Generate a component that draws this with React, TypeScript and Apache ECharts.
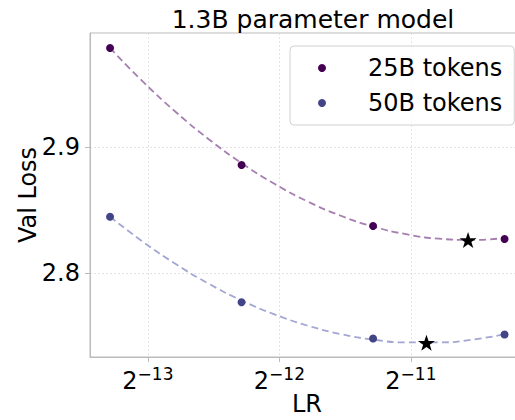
import React, { useEffect, useRef } from "react";
import * as echarts from "echarts";

// Learning rates swept (powers of two apart)
const lr = [1e-4, 2e-4, 4e-4, 8e-4];
const loss25B = [2.9786, 2.8857, 2.8373, 2.827];
const loss50B = [2.8447, 2.7767, 2.748, 2.7512];

// Fitted curves, sampled at quarter-octave steps
const fitLr = [
  1.0e-4, 1.189e-4, 1.414e-4, 1.682e-4, 2.0e-4, 2.378e-4, 2.828e-4,
  3.364e-4, 4.0e-4, 4.757e-4, 5.657e-4, 6.727e-4, 8.0e-4,
];
const fit25B = [
  2.9786, 2.9519, 2.9278, 2.9062, 2.8872, 2.8708, 2.8569, 2.8456, 2.8369,
  2.8308, 2.8272, 2.8262, 2.8278,
];
const fit50B = [
  2.8447, 2.8248, 2.8071, 2.7915, 2.7782, 2.7672, 2.7583, 2.7516, 2.7471,
  2.7449, 2.7449, 2.747, 2.7514,
];

// Minimum of each fit
const optimaLr = [6.6e-4, 5.3e-4];
const optimaLoss = [2.8262, 2.7446];

const xTicks = [Math.pow(2, -13), Math.pow(2, -12), Math.pow(2, -11)];
const yTicks = [2.8, 2.9];

const C25 = "#440154";
const C50 = "#414487";
const FIT25 = "#a67eb0";
const FIT50 = "#a3a6d2";
const FONT = "DejaVu Sans";
const STAR =
  "path://M50,0 L61.8,35.1 L98.1,35.1 L68.8,56.7 L79.4,91 L50,70 L20.6,91 L31.2,56.7 L1.9,35.1 L38.2,35.1 Z";

const pairs = (xs: number[], ys: number[]) => xs.map((x, i) => [x, ys[i]]);

export default function App() {
  const ref = useRef<HTMLDivElement>(null);

  useEffect(() => {
    if (!ref.current) return;
    const chart = echarts.init(ref.current, undefined, { renderer: "svg" });
    const gridLine = { show: true, lineStyle: { color: "#dcdcdc", type: [2, 2] as any, width: 0.8 } };

    chart.setOption({
      animation: false,
      backgroundColor: "#ffffff",
      textStyle: { fontFamily: FONT },
      title: {
        text: "1.3B parameter model",
        left: 308,
        textAlign: "center",
        top: 2,
        textStyle: { fontFamily: FONT, fontSize: 25, fontWeight: "normal", color: "#000" },
      },
      grid: {
        left: 90,
        top: 33,
        width: 434,
        height: 324,
        outerBoundsMode: "none",
        containLabel: false,
        show: true,
        borderColor: "#bbbbbb",
        borderWidth: 1,
        backgroundColor: "transparent",
      },
      legend: {
        data: ["25B tokens", "50B tokens"],
        orient: "vertical",
        left: 290,
        top: 46,
        icon: "circle",
        itemWidth: 8,
        itemHeight: 8,
        itemGap: 9,
        padding: [9, 12, 9, 28],
        backgroundColor: "rgba(255,255,255,0.8)",
        borderColor: "#d0d0d0",
        borderWidth: 1,
        borderRadius: 4,
        textStyle: {
          fontFamily: FONT,
          fontSize: 24,
          color: "#000",
          lineHeight: 26,
          padding: [0, 0, 0, 37],
        },
      },
      xAxis: {
        type: "log",
        logBase: 2,
        min: 8.998e-5,
        max: 8.862e-4,
        name: "LR",
        nameLocation: "middle",
        nameGap: 35,
        nameMoveOverlap: false,
        nameTextStyle: { fontFamily: FONT, fontSize: 24, color: "#000", lineHeight: 24 },
        axisLine: { show: true, lineStyle: { color: "#bbbbbb" } },
        axisTick: {
          show: true,
          length: 5,
          customValues: xTicks,
          lineStyle: { color: "#bbbbbb" },
        },
        axisLabel: {
          customValues: xTicks,
          margin: 8,
          formatter: (v: number) => `{b|2}{s|−${Math.round(-Math.log2(v))}}`,
          rich: {
            b: { fontFamily: FONT, fontSize: 24, color: "#000", lineHeight: 28, verticalAlign: "bottom" },
            s: { fontFamily: FONT, fontSize: 17, color: "#000", lineHeight: 28, verticalAlign: "top" },
          },
        },
        splitLine: gridLine,
      },
      yAxis: {
        type: "value",
        min: 2.7333,
        max: 2.9905,
        name: "Val Loss",
        nameLocation: "middle",
        nameGap: 50,
        nameMoveOverlap: false,
        nameRotate: 90,
        nameTextStyle: { fontFamily: FONT, fontSize: 24, color: "#000" },
        axisLine: { show: true, lineStyle: { color: "#bbbbbb" } },
        axisTick: {
          show: true,
          length: 5,
          customValues: yTicks,
          lineStyle: { color: "#bbbbbb" },
        },
        axisLabel: {
          customValues: yTicks,
          margin: 10,
          fontFamily: FONT,
          fontSize: 24,
          color: "#000",
          formatter: (v: number) => v.toFixed(1),
        },
        splitLine: gridLine,
      },
      series: [
        {
          name: "25B fit",
          type: "line",
          data: pairs(fitLr, fit25B),
          smooth: true,
          showSymbol: false,
          lineStyle: { color: FIT25, width: 1.8, type: [7, 4] },
          z: 2,
        },
        {
          name: "50B fit",
          type: "line",
          data: pairs(fitLr, fit50B),
          smooth: true,
          showSymbol: false,
          lineStyle: { color: FIT50, width: 1.8, type: [7, 4] },
          z: 2,
        },
        {
          name: "25B tokens",
          type: "scatter",
          data: pairs(lr, loss25B),
          symbolSize: 8,
          itemStyle: { color: C25, opacity: 1 },
          z: 3,
        },
        {
          name: "50B tokens",
          type: "scatter",
          data: pairs(lr, loss50B),
          symbolSize: 8,
          itemStyle: { color: C50, opacity: 1 },
          z: 3,
        },
        {
          name: "optimum",
          type: "scatter",
          data: pairs(optimaLr, optimaLoss),
          symbol: STAR,
          symbolSize: [17, 16],
          itemStyle: { color: "#000", opacity: 1 },
          z: 4,
        },
      ],
    });

    return () => chart.dispose();
  }, []);

  return (
    <div
      ref={ref}
      style={{ position: "absolute", left: 0, top: 0, width: 515, height: 420 }}
    />
  );
}
